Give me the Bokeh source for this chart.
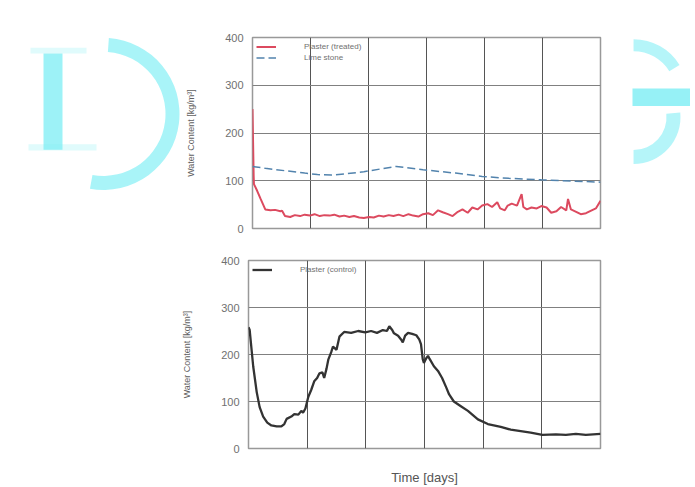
from bokeh.plotting import figure
from bokeh.layouts import row, column
from bokeh.models import Range1d, FixedTicker, Legend, LegendItem
from bokeh.embed import file_html
from bokeh.resources import INLINE

# ---------------- data ----------------
days_ticks = [0, 1, 2, 3, 4, 5, 6]
y_ticks = [0, 100, 200, 300, 400]

red_t = [0.00, 0.01, 0.02, 0.025, 0.08, 0.14, 0.22, 0.31, 0.39, 0.48, 0.51, 0.56, 0.65, 0.73,
         0.82, 0.90, 0.99, 1.07, 1.16, 1.24, 1.33, 1.41, 1.50, 1.58, 1.67, 1.75, 1.84, 1.92,
         2.01, 2.09, 2.18, 2.26, 2.35, 2.43, 2.52, 2.60, 2.69, 2.77, 2.86, 2.94, 3.03, 3.11,
         3.20, 3.28, 3.37, 3.45, 3.54, 3.62, 3.71, 3.79, 3.88, 3.96, 4.05, 4.13, 4.22, 4.27,
         4.35, 4.40, 4.47, 4.56, 4.64, 4.67, 4.73, 4.81, 4.90, 4.98, 5.07, 5.15, 5.24, 5.32,
         5.41, 5.44, 5.49, 5.58, 5.66, 5.75, 5.83, 5.92, 6.00]
red_v = [250, 180, 110, 93, 79, 62, 40, 38, 39, 36, 37, 26, 24, 28,
         26, 29, 27, 30, 26, 28, 27, 29, 25, 27, 24, 26, 23, 22,
         24, 23, 27, 25, 28, 26, 29, 26, 30, 27, 25, 30, 32, 28,
         38, 34, 30, 26, 35, 40, 33, 44, 40, 48, 51, 45, 55, 42,
         38, 48, 52, 48, 72, 45, 40, 44, 42, 47, 44, 33, 36, 45,
         38, 62, 40, 35, 30, 32, 37, 42, 58]

blue_t = [0.00, 0.22, 0.56, 0.90, 1.12, 1.36, 1.58, 1.92, 2.48, 2.94, 3.50, 3.96, 4.42, 4.98, 6.00]
blue_v = [130, 126, 121, 116, 113, 112, 114, 119, 130, 123, 116, 109, 105, 102, 97]

black_t = [0.00, 0.02, 0.08, 0.14, 0.19, 0.25, 0.32, 0.39, 0.48, 0.56, 0.61, 0.65, 0.73, 0.78,
           0.85, 0.90, 0.93, 0.97, 1.02, 1.07, 1.12, 1.17, 1.21, 1.26, 1.29, 1.33, 1.36, 1.41,
           1.44, 1.50, 1.55, 1.63, 1.75, 1.87, 1.99, 2.09, 2.19, 2.29, 2.36, 2.40, 2.45, 2.48,
           2.55, 2.60, 2.63, 2.67, 2.72, 2.79, 2.86, 2.91, 2.94, 2.97, 2.99, 3.03, 3.06, 3.09,
           3.16, 3.23, 3.30, 3.37, 3.42, 3.50, 3.62, 3.74, 3.91, 4.08, 4.30, 4.47, 4.64, 4.81,
           5.01, 5.24, 5.41, 5.58, 5.75, 6.00]
black_v = [258, 252, 175, 120, 88, 68, 55, 49, 47, 47, 52, 63, 68, 73,
           72, 80, 76, 85, 110, 125, 143, 150, 160, 162, 150, 170, 189, 205,
           217, 210, 238, 248, 246, 250, 247, 250, 246, 252, 250, 260, 252, 245,
           240, 232, 226, 240, 246, 244, 241, 232, 222, 190, 182, 192, 197, 190,
           175, 165, 150, 130, 115, 100, 90, 80, 62, 52, 46, 40, 37, 34,
           29, 30, 29, 31, 29, 31]

FONT = "Liberation Sans"
RED = "#dc4a5f"
BLUE = "#5283ad"
BLACK = "#333333"
CYAN = "#84eff5"


def chart(width, height, bl, br, bt, bb, show_xlabel):
    p = figure(width=width, height=height, output_backend="svg", toolbar_location=None,
               x_range=Range1d(0, 6), y_range=Range1d(0, 400),
               min_border_left=bl, min_border_right=br, min_border_top=bt, min_border_bottom=bb)
    p.background_fill_color = "white"
    p.border_fill_color = "white"
    p.outline_line_color = "#999999"
    p.outline_line_width = 1.5
    p.yaxis.ticker = FixedTicker(ticks=y_ticks)
    p.yaxis.axis_line_color = None
    p.yaxis.major_tick_line_color = None
    p.yaxis.minor_tick_line_color = None
    p.yaxis.major_label_text_font = FONT
    p.yaxis.major_label_text_font_size = "11px"
    p.yaxis.major_label_text_color = "#707070"
    p.yaxis.major_label_standoff = 3
    p.yaxis.axis_label = "Water Content [kg/m³]"
    p.yaxis.axis_label_text_font = FONT
    p.yaxis.axis_label_text_font_size = "9px"
    p.yaxis.axis_label_text_font_style = "normal"
    p.yaxis.axis_label_text_color = "#606060"
    p.yaxis.axis_label_standoff = 26
    # no x tick labels are shown; the grid keeps the day lines
    p.xaxis.ticker = FixedTicker(ticks=[])
    p.xgrid.ticker = FixedTicker(ticks=days_ticks)
    p.xgrid.grid_line_color = "#555555"
    p.xgrid.grid_line_width = 1
    p.ygrid.grid_line_color = "#808080"
    p.ygrid.grid_line_width = 1
    if show_xlabel:
        p.xaxis.axis_line_color = None
        p.xaxis.major_tick_line_color = None
        p.xaxis.minor_tick_line_color = None
        p.xaxis.major_label_standoff = 0
        p.xaxis.axis_label = "Time [days]"
        p.xaxis.axis_label_text_font = FONT
        p.xaxis.axis_label_text_font_size = "13px"
        p.xaxis.axis_label_text_font_style = "normal"
        p.xaxis.axis_label_text_color = "#555555"
        p.xaxis.axis_label_standoff = 21
    else:
        p.xaxis.visible = False
    return p


def style_legend(leg):
    leg.location = "top_left"
    leg.background_fill_alpha = 0
    leg.border_line_color = None
    leg.label_text_font = FONT
    leg.label_text_font_size = "8px"
    leg.label_text_color = "#707070"
    leg.glyph_width = 20
    leg.glyph_height = 11
    leg.label_height = 11
    leg.label_standoff = 28
    leg.spacing = 0
    leg.padding = 2
    leg.margin = 4


# ---------------- top chart ----------------
top = chart(442, 240, 64, 25, 37, 12, False)
r1 = top.line(red_t, red_v, line_color=RED, line_width=2)
r2 = top.line(blue_t, blue_v, line_color=BLUE, line_width=1.5, line_dash="8 4")
leg1 = Legend(items=[LegendItem(label="Plaster (treated)", renderers=[r1]),
                     LegendItem(label="Lime stone", renderers=[r2])])
style_legend(leg1)
top.add_layout(leg1, "center")

# ---------------- bottom chart ----------------
bot = chart(690, 247, 248, 90, 20, 36, True)
r3 = bot.line(black_t, black_v, line_color=BLACK, line_width=2.3)
leg2 = Legend(items=[LegendItem(label="Plaster (control)", renderers=[r3])])
style_legend(leg2)
bot.add_layout(leg2, "center")


# ---------------- watermark panels ----------------
def blank(width, height):
    p = figure(width=width, height=height, output_backend="svg", toolbar_location=None,
               x_range=Range1d(0, width), y_range=Range1d(height, 0),
               min_border=0)
    p.axis.visible = False
    p.grid.visible = False
    p.outline_line_color = None
    p.background_fill_color = "white"
    p.border_fill_color = "white"
    return p


wl = blank(183, 240)
wl.quad(left=[43], right=[62], top=[20], bottom=[141], fill_color=CYAN, line_color=None, fill_alpha=0.8)
wl.quad(left=[30], right=[86], top=[13], bottom=[20], fill_color=CYAN, line_color=None, fill_alpha=0.25)
wl.quad(left=[28], right=[96], top=[134], bottom=[142], fill_color=CYAN, line_color=None, fill_alpha=0.25)
wl.annular_wedge(x=[103], y=[96], inner_radius=62, outer_radius=76, start_angle=-1.75, end_angle=1.5,
                 inner_radius_units="screen", outer_radius_units="screen",
                 fill_color=CYAN, line_color=None, fill_alpha=0.7, direction="anticlock")

wr = blank(65, 240)
wr.annular_wedge(x=[8], y=[70], inner_radius=42, outer_radius=54, start_angle=0.55, end_angle=1.57,
                 inner_radius_units="screen", outer_radius_units="screen",
                 fill_color=CYAN, line_color=None, fill_alpha=0.6)
wr.quad(left=[7], right=[65], top=[64], bottom=[86], fill_color=CYAN, line_color=None, fill_alpha=0.85)
wr.annular_wedge(x=[8], y=[100], inner_radius=33, outer_radius=47, start_angle=-1.57, end_angle=0.1,
                 inner_radius_units="screen", outer_radius_units="screen",
                 fill_color=CYAN, line_color=None, fill_alpha=0.6)

layout = column(row(wl, top, wr), bot)

open("out.html", "w").write(file_html(layout, INLINE))
